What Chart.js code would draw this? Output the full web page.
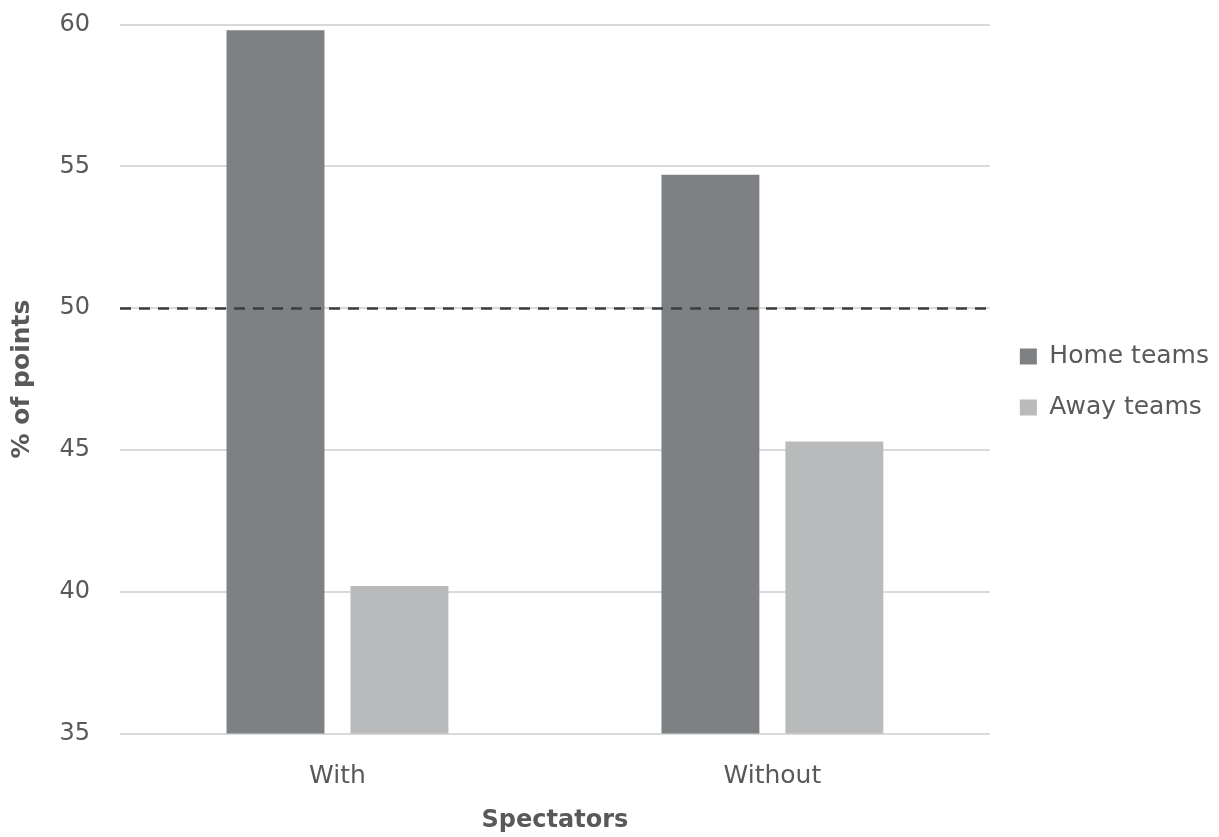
<!DOCTYPE html>
<html>
<head>
<meta charset="utf-8">
<script src="https://cdn.jsdelivr.net/npm/chart.js@4.4.1/dist/chart.umd.min.js"></script>
<style>
  html, body { margin: 0; padding: 0; background: #ffffff; overflow: hidden; }
  #wrap { width: 1219px; height: 837px; position: relative; }
</style>
</head>
<body>
<div id="wrap"><canvas id="chart"></canvas></div>
<script>
// Share of points won, by spectator condition
const categories = ['With', 'Without'];
const homeTeams = [59.8, 54.7];
const awayTeams = [40.2, 45.3];
const seriesNames = ['Home teams', 'Away teams'];
const yTicks = [35, 40, 45, 50, 55, 60];
const parityLevel = 50;   // even split of points
const axisTitles = { x: 'Spectators', y: '% of points' };

const FONT = "'DejaVu Sans', 'Open Sans', sans-serif";
const TEXT = '#595959';

// fixed frame for the plot area
const FRAME = { left: 120, top: 24.5, bottom: 733.5 };
const CANVAS_H = 837;

// horizontal dashed reference line at the parity level
const parityLine = {
  id: 'parityLine',
  afterDatasetsDraw(chart) {
    const { ctx, chartArea, scales } = chart;
    const y = Math.round(scales.y.getPixelForValue(parityLevel)) + 0.5;
    ctx.save();
    ctx.strokeStyle = '#3c3c3c';
    ctx.lineWidth = 2.5;
    ctx.setLineDash([11, 8]);
    ctx.beginPath();
    ctx.moveTo(chartArea.left, y);
    ctx.lineTo(chartArea.right, y);
    ctx.stroke();
    ctx.restore();
  }
};

// nudge the legend block a little away from the plot area
const legendNudge = {
  id: 'legendNudge',
  afterLayout(chart) {
    if (chart.legend) {
      chart.legend.left += 4;
      chart.legend.top += 3;
      chart.legend.bottom += 3;
    }
  }
};

new Chart(document.getElementById('chart'), {
  type: 'bar',
  data: {
    labels: categories,
    datasets: [
      { label: seriesNames[0], data: homeTeams, backgroundColor: '#7e8184',
        categoryPercentage: 0.57, barPercentage: 0.79 },
      { label: seriesNames[1], data: awayTeams, backgroundColor: '#b8babc',
        categoryPercentage: 0.57, barPercentage: 0.79 }
    ]
  },
  options: {
    responsive: true,
    maintainAspectRatio: false,
    animation: false,
    layout: { padding: { top: FRAME.top, left: 0, right: 4, bottom: 0 } },
    plugins: {
      tooltip: { enabled: false },
      legend: {
        position: 'right',
        fullSize: false,
        labels: {
          font: { family: FONT, size: 25 },
          color: TEXT,
          boxWidth: 17,
          boxHeight: 16,
          padding: 26
        }
      }
    },
    scales: {
      x: {
        grid: { display: false, drawTicks: false, tickLength: 0 },
        border: { display: false },
        ticks: { font: { family: FONT, size: 25 }, color: TEXT, padding: 28 },
        title: {
          display: true, text: axisTitles.x, color: TEXT,
          font: { family: FONT, size: 24, weight: 'bold' },
          padding: { top: 0, bottom: 2 }
        },
        afterFit(scale) {
          scale.height = CANVAS_H - FRAME.bottom;
          scale.paddingLeft = 0;
          scale.paddingRight = 0;
        }
      },
      y: {
        min: yTicks[0],
        max: yTicks[yTicks.length - 1],
        afterBuildTicks(scale) { scale.ticks = yTicks.map(v => ({ value: v })); },
        grid: { color: '#d9d9d9', lineWidth: 2, drawTicks: false, tickLength: 0 },
        border: { display: false },
        ticks: { font: { family: FONT, size: 24 }, color: TEXT, padding: 30 },
        title: {
          display: true, text: axisTitles.y, color: TEXT,
          font: { family: FONT, size: 25, weight: 'bold' },
          padding: { top: 7, bottom: 0 }
        },
        afterFit(scale) {
          scale.width = FRAME.left;
          scale.paddingTop = 0;
          scale.paddingBottom = 0;
        }
      }
    }
  },
  plugins: [parityLine, legendNudge]
});
</script>
</body>
</html>
